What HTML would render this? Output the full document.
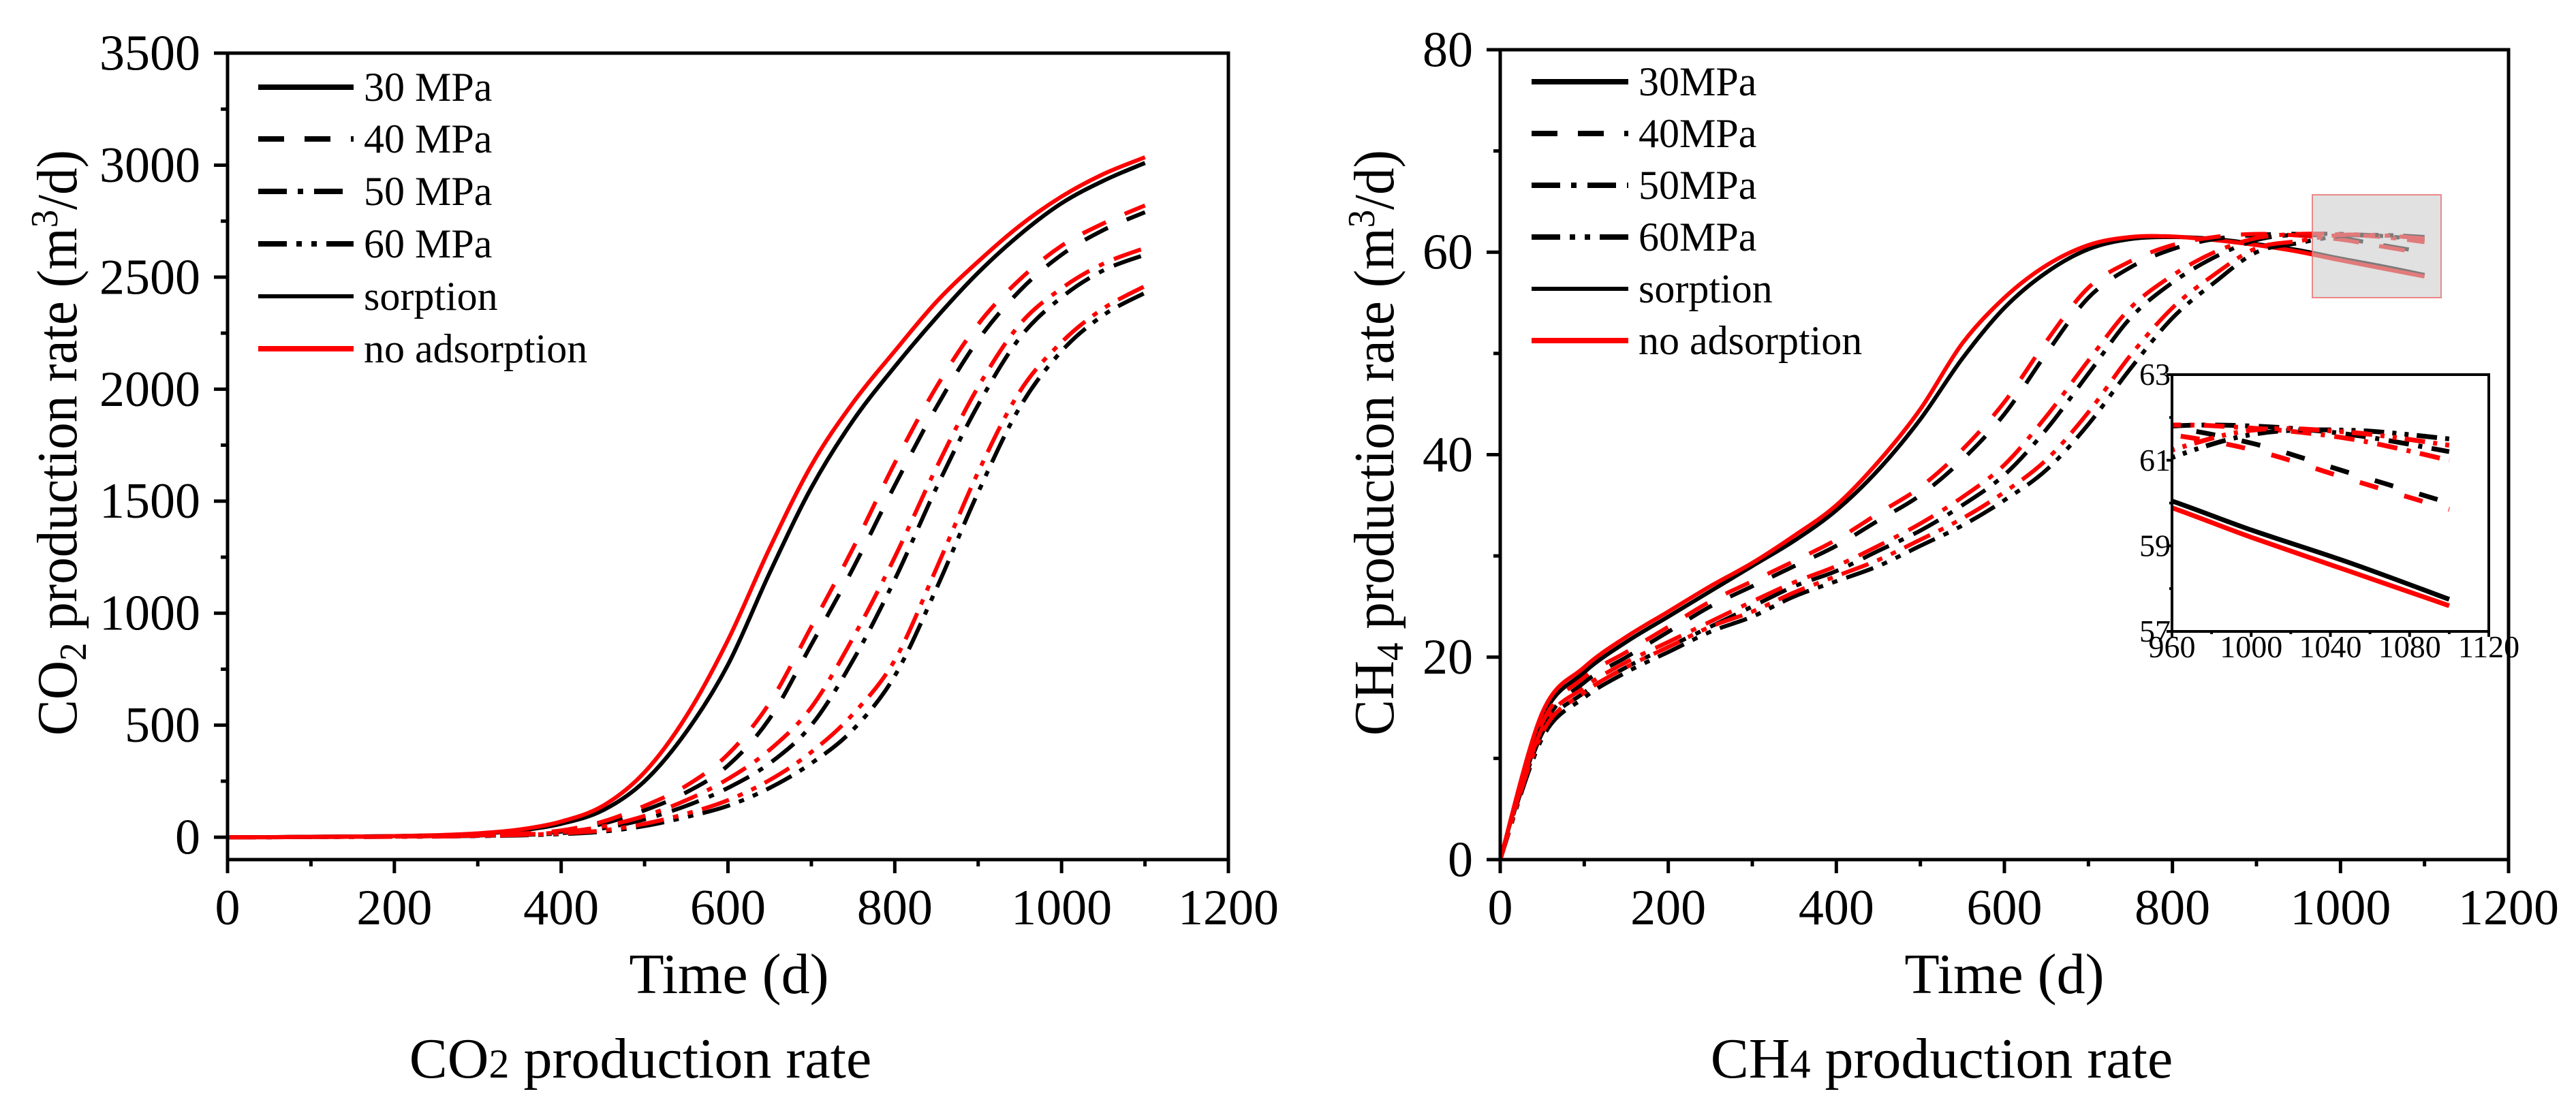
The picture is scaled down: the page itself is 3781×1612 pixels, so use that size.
<!DOCTYPE html>
<html><head><meta charset="utf-8"><style>
html,body{margin:0;padding:0;background:#fff;width:3781px;height:1612px;overflow:hidden;position:relative;}
svg{display:block;font-family:"Liberation Serif",serif;}
</style></head><body>
<svg id="fig" width="3781" height="1612" viewBox="0 0 3781 1612" xmlns="http://www.w3.org/2000/svg" style="position:absolute;left:0;top:0;overflow:hidden;">
<rect width="3781" height="1612" fill="#fff"/>
</svg>
<script>
// ---- data ----
const days = [0,50,100,150,200,250,300,350,400,450,500,550,600,650,700,750,800,850,900,950,1000,1050,1100];
// CO2 production rate (m3/d)
const co2_30_s = [0,0,2,3,5,8,15,30,60,120,250,470,770,1180,1560,1860,2100,2320,2520,2690,2830,2930,3010];
const co2_30_n = [0,0,2,3,5,9,17,34,70,140,290,540,880,1290,1660,1940,2170,2390,2570,2730,2860,2960,3035];
const co2_40_s = [0,0,1,2,3,5,8,14,25,60,120,200,320,530,860,1200,1570,1920,2220,2440,2600,2710,2790];
const co2_40_n = [0,0,1,2,3,5,9,16,30,70,140,230,370,600,940,1290,1670,2010,2290,2490,2640,2740,2820];
const co2_50_s = [0,0,1,2,3,4,6,10,18,40,80,140,220,330,500,790,1150,1560,1930,2230,2410,2530,2600];
const co2_50_n = [0,0,1,2,3,4,7,12,22,48,95,165,260,390,580,890,1250,1650,2010,2290,2450,2560,2630];
const co2_60_s = [0,0,1,1,2,3,5,8,14,25,50,90,140,220,330,480,720,1110,1540,1920,2170,2330,2430];
const co2_60_n = [0,0,1,1,2,3,6,10,17,30,60,105,165,255,380,550,790,1200,1630,1990,2210,2360,2460];
// CH4 production rate (m3/d)
const ch4_30_s = [0,14,18.5,21.5,24,26.5,29,31.5,34.5,38.5,43.5,49.5,54.5,58,60.3,61.3,61.5,61.3,60.8,60.2,59.37,58.6,57.75];
const ch4_30_n = [0,14.5,19,22,24.5,27,29.3,32,35,39.3,44.5,51,55.5,58.7,60.7,61.5,61.55,61.2,60.7,60.05,59.2,58.4,57.6];
const ch4_40_s = [0,13,17.5,20,22.5,25,27,29,31,33.5,36,39.5,44,50,55.5,58.5,60.3,61.3,61.7,61.8,61.4,60.7,60.0];
const ch4_40_n = [0,13.5,18,20.5,23,25.5,27.5,29.5,31.6,34.2,36.8,40.5,45.2,51.2,56.5,59.1,60.7,61.5,61.8,61.65,61.25,60.55,59.85];
const ch4_50_s = [0,12.5,16.5,19,21,23,25,27,28.5,30.5,32.5,35,38,42.5,48,53.5,57,59.5,61.2,61.75,61.8,61.6,61.2];
const ch4_50_n = [0,13,17,19.5,21.5,23.5,25.5,27.4,29,31,33.2,35.8,39,43.8,49.3,54.5,57.7,60,61.4,61.8,61.75,61.5,61.0];
const ch4_60_s = [0,12,16,18.5,20.5,22.5,24,26,27.5,29,31,33,35.5,38.5,43,48.5,53.5,57,60.0,60.9,61.6,61.7,61.5];
const ch4_60_n = [0,12.5,16.5,19,21,23,24.5,26.4,28,29.6,31.6,33.7,36.3,39.5,44.2,49.8,54.5,57.8,60.4,61.1,61.7,61.65,61.35];
const xTicks = [0,200,400,600,800,1000,1200];
const co2Ticks = [0,500,1000,1500,2000,2500,3000,3500];
const ch4Ticks = [0,20,40,60,80];
const insetXTicks = [960,1000,1040,1080,1120];
const insetYTicks = [57,59,61,63];
const legendLeft = ["30 MPa","40 MPa","50 MPa","60 MPa","sorption","no adsorption"];
const legendRight = ["30MPa","40MPa","50MPa","60MPa","sorption","no adsorption"];

const NS="http://www.w3.org/2000/svg";
const svg=document.getElementById('fig');
function mk(tag,attrs,parent){const e=document.createElementNS(NS,tag);for(const k in attrs)e.setAttribute(k,attrs[k]);(parent||svg).appendChild(e);return e;}
const dashes={30:"none",40:"38 30",50:"42 16 8 16",60:"42 14 8 14 8 14"};
const dashesSmall={30:"none",40:"28 40",50:"30 14 6 14",60:"30 12 6 12 6 12"};
function pathD(xs,ys,sx,sy){const p=xs.map((x,i)=>[sx(x),sy(ys[i])]);let d="M"+p[0][0].toFixed(1)+","+p[0][1].toFixed(1);
 for(let i=0;i<p.length-1;i++){const p0=p[i-1]||p[i],p1=p[i],p2=p[i+1],p3=p[i+2]||p[i+1];
  const c1=[p1[0]+(p2[0]-p0[0])/6,p1[1]+(p2[1]-p0[1])/6],c2=[p2[0]-(p3[0]-p1[0])/6,p2[1]-(p3[1]-p1[1])/6];
  d+=" C"+c1[0].toFixed(1)+","+c1[1].toFixed(1)+" "+c2[0].toFixed(1)+","+c2[1].toFixed(1)+" "+p2[0].toFixed(1)+","+p2[1].toFixed(1);}
 return d;}

function panel(o){
 const g=mk('g',{});
 
 
 if(o.bg){mk('rect',{x:o.x0,y:o.yt,width:o.x1-o.x0,height:o.yb-o.yt,fill:'#fff'},g);}
 const sx=v=>o.x0+(v-o.xmin)/(o.xmax-o.xmin)*(o.x1-o.x0);
 const sy=v=>o.yb-(v-o.ymin)/(o.ymax-o.ymin)*(o.yb-o.yt);
 const clipId=o.name+'-clip';
 const cp=mk('clipPath',{id:clipId},g);mk('rect',{x:o.x0,y:o.yt,width:o.x1-o.x0,height:o.yb-o.yt},cp);
 const cg=mk('g',{'clip-path':'url(#'+clipId+')'},g);
 const ds=o.dash||dashes;
 o.series.forEach(s=>{
  const p=mk('path',{d:pathD(days,s.v,sx,sy),fill:'none',stroke:s.c,'stroke-width':o.lw,'stroke-dasharray':ds[s.p],'stroke-linejoin':'round'},cg);
  
  
 });
 const fr=mk('rect',{x:o.x0,y:o.yt,width:o.x1-o.x0,height:o.yb-o.yt,fill:'none',stroke:'#000','stroke-width':o.aw},g);
 
 
 o.xt.forEach((t,i)=>{
  mk('line',{x1:sx(t),x2:sx(t),y1:o.yb,y2:o.yb+o.tl,stroke:'#000','stroke-width':o.aw},g);
  if(i<o.xt.length-1){const m=(t+o.xt[i+1])/2;mk('line',{x1:sx(m),x2:sx(m),y1:o.yb,y2:o.yb+o.tl/2,stroke:'#000','stroke-width':o.aw},g);}
  const tx=mk('text',{x:sx(t),y:o.yb+o.xlo,'text-anchor':'middle','font-size':o.fs},g);tx.textContent=t;
  
  
 });
 o.yt2.forEach((t,i)=>{
  mk('line',{x1:o.x0-o.tl,x2:o.x0,y1:sy(t),y2:sy(t),stroke:'#000','stroke-width':o.aw},g);
  if(i<o.yt2.length-1){const m=(t+o.yt2[i+1])/2;mk('line',{x1:o.x0-o.tl/2,x2:o.x0,y1:sy(m),y2:sy(m),stroke:'#000','stroke-width':o.aw},g);}
  const tx=mk('text',{x:o.x0-o.ylo,y:sy(t)+o.fs*0.33,'text-anchor':'end','font-size':o.fs},g);tx.textContent=t;
  
  
 });
 return {g,sx,sy};
}

function seriesSet(a){return [
 {n:'30mpa-sorption',v:a[0],c:'#000',p:30},{n:'30mpa-no-adsorption',v:a[1],c:'#f00',p:30},
 {n:'40mpa-sorption',v:a[2],c:'#000',p:40},{n:'40mpa-no-adsorption',v:a[3],c:'#f00',p:40},
 {n:'50mpa-sorption',v:a[4],c:'#000',p:50},{n:'50mpa-no-adsorption',v:a[5],c:'#f00',p:50},
 {n:'60mpa-sorption',v:a[6],c:'#000',p:60},{n:'60mpa-no-adsorption',v:a[7],c:'#f00',p:60}];}

panel({name:'co2-chart',x0:334,x1:1803,yt:78,yb:1262,xmin:0,xmax:1200,ymin:-100,ymax:3500,xt:xTicks,yt2:co2Ticks,
 fs:74,tl:20,aw:5,lw:6,xlo:95,ylo:40,series:seriesSet([co2_30_s,co2_30_n,co2_40_s,co2_40_n,co2_50_s,co2_50_n,co2_60_s,co2_60_n])});
panel({name:'ch4-chart',x0:2202,x1:3682,yt:73,yb:1262,xmin:0,xmax:1200,ymin:0,ymax:80,xt:xTicks,yt2:ch4Ticks,
 fs:74,tl:20,aw:5,lw:6,xlo:95,ylo:40,series:seriesSet([ch4_30_s,ch4_30_n,ch4_40_s,ch4_40_n,ch4_50_s,ch4_50_n,ch4_60_s,ch4_60_n])});

const hr=mk('rect',{x:3394,y:286,width:189,height:151,fill:'rgba(205,205,205,0.6)',stroke:'rgba(235,110,110,0.8)','stroke-width':2});



panel({name:'ch4-inset',x0:3188,x1:3653,yt:550,yb:927,xmin:960,xmax:1120,ymin:57,ymax:63,xt:insetXTicks,yt2:insetYTicks,bg:true,dash:dashesSmall,
 fs:46,tl:8,aw:4,lw:7,xlo:38,ylo:2,series:seriesSet([ch4_30_s,ch4_30_n,ch4_40_s,ch4_40_n,ch4_50_s,ch4_50_n,ch4_60_s,ch4_60_n])});

function legend(x1,x2,tx,ys,labels,fs,name){
 const styles=[[30,'#000'],[40,'#000'],[50,'#000'],[60,'#000'],[30,'#000'],[30,'#f00']];
 labels.forEach((lb,i)=>{
  const g=mk('g',{});
  
  
  mk('line',{x1:x1,x2:x2,y1:ys[i],y2:ys[i],stroke:styles[i][1],'stroke-width':i===4?6:8,'stroke-dasharray':dashes[styles[i][0]]},g);
  const t=mk('text',{x:tx,y:ys[i]+fs*0.33,'font-size':fs},g);t.textContent=lb;
 });
}
legend(379,519,534,[128,204,281,358,435,512],legendLeft,60,'co2-legend');
legend(2248,2390,2405,[120,196,272,348,424,500],legendRight,60,'ch4-legend');
</script>
<svg width="3781" height="1612" viewBox="0 0 3781 1612" style="position:absolute;left:0;top:0;overflow:hidden;font-family:'Liberation Serif',serif;pointer-events:none;">
 <text transform="translate(112,650) rotate(-90)" text-anchor="middle" font-size="84" textLength="860" lengthAdjust="spacingAndGlyphs">CO<tspan font-size="56" dy="14">2</tspan><tspan dy="-14"> production rate (m</tspan><tspan font-size="56" dy="-28">3</tspan><tspan dy="28">/d)</tspan></text>
 <text x="1070" y="1458" text-anchor="middle" font-size="84">Time (d)</text>
 <text x="940" y="1582" text-anchor="middle" font-size="84">CO<tspan font-size="60">2</tspan> production rate</text>
 <text transform="translate(2045,650) rotate(-90)" text-anchor="middle" font-size="84" textLength="860" lengthAdjust="spacingAndGlyphs">CH<tspan font-size="56" dy="14">4</tspan><tspan dy="-14"> production rate (m</tspan><tspan font-size="56" dy="-28">3</tspan><tspan dy="28">/d)</tspan></text>
 <text x="2942" y="1458" text-anchor="middle" font-size="84">Time (d)</text>
 <text x="2850" y="1582" text-anchor="middle" font-size="84">CH<tspan font-size="60">4</tspan> production rate</text>
</svg>
</body></html>
